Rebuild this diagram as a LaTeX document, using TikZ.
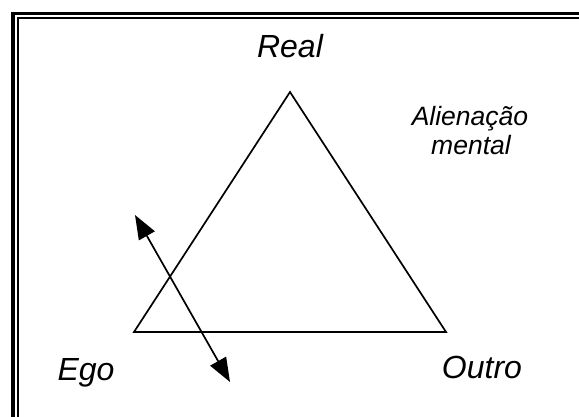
\documentclass[tikz,border=0pt]{standalone}
\usepackage{fontspec}
\setmainfont{Liberation Sans}
\usetikzlibrary{arrows.meta,positioning}
\tikzset{
  outerframe/.style={line width=3.6pt},
  innerframe/.style={line width=1.8pt},
  edge/.style={line width=1.7pt, line join=miter},
  darr/.style={{Triangle[length=24pt,width=18pt]}-{Triangle[length=24pt,width=18pt]}, line width=1.7pt},
  vlab/.style={font=\fontsize{32}{38}\selectfont\itshape, inner sep=0pt, anchor=base},
  nlab/.style={font=\fontsize{26.5}{32}\selectfont\itshape, inner sep=0pt, anchor=base},
}
\begin{document}
\begin{tikzpicture}[x=1pt,y=-1pt]
\useasboundingbox (0,0) rectangle (579,417);
\clip (0,0) rectangle (579,417);
% double frame, running off right and bottom
\draw[outerframe] (13,440) -- (13,13.5) -- (600,13.5);
\draw[innerframe] (18,440) -- (18,18) -- (600,18);
% triangle
\coordinate (real) at (290,92);
\coordinate (ego) at (134,332);
\coordinate (outro) at (446,332);
\draw[edge] (real) -- (outro) -- (ego) -- cycle;
% labels
\node[vlab] (lreal) at (290,58) {Real};
\node[vlab] (lego) at (86,380) {Ego};
\node[vlab] (loutro) at (482,378) {Outro};
\node[nlab] (lalien) at (470,126) {Alienação};
\node[nlab] (lmental) at (471,155) {mental};
% double arrow
\coordinate (atop) at (135,215);
\coordinate (abot) at (230,382);
\draw[darr] (atop) -- (abot);
\end{tikzpicture}
\end{document}
